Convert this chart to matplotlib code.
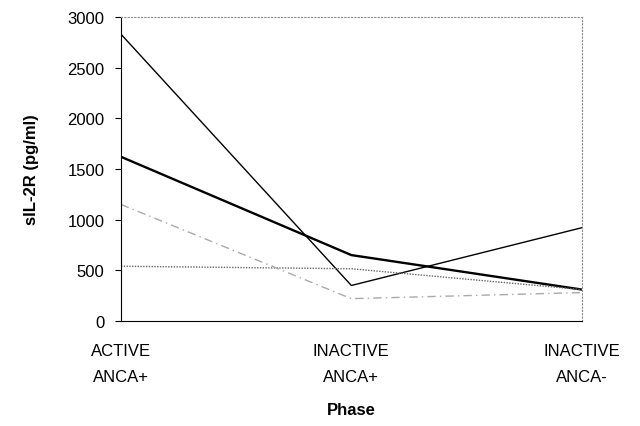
import matplotlib.pyplot as plt

plt.rcParams['font.family'] = ['Liberation Sans', 'DejaVu Sans']

## categories and patient series
phases = ["ACTIVE\nANCA+", "INACTIVE\nANCA+", "INACTIVE\nANCA-"]
pat1 = [2830, 350, 920]   # thin solid
pat2 = [1620, 650, 310]   # thick solid
pat3 = [540, 515, 310]    # dotted
pat4 = [1150, 220, 280]   # dash-dot

fig = plt.figure(figsize=(6.4, 4.27), dpi=100)
ax = fig.add_axes([0.189, 0.246, 0.72, 0.712])

x = range(len(phases))
ax.plot(x, pat1, color="black", lw=1.0)
ax.plot(x, pat2, color="black", lw=1.7)
ax.plot(x, pat3, color="#666666", lw=1.0, ls=(0, (1, 1)))
ax.plot(x, pat4, color="#aaaaaa", lw=1.0, ls=(0, (6, 3, 1, 3)))

ax.set_xlim(0, 2)
ax.set_ylim(0, 3000)
ax.set_yticks([0, 500, 1000, 1500, 2000, 2500, 3000])
ax.set_xticks(list(x))
ax.set_xticklabels(phases, fontsize=12, linespacing=1.9)
ax.tick_params(axis="y", labelsize=12, length=4, pad=8)
ax.tick_params(axis="x", length=0, pad=16)

for s in ["top", "right"]:
    ax.spines[s].set_linestyle((0, (1, 2)))
    ax.spines[s].set_color("#888888")
ax.spines["left"].set_linewidth(0.8)
ax.spines["bottom"].set_linewidth(0.8)

ax.set_ylabel("sIL-2R (pg/ml)", fontsize=12, fontweight="bold", labelpad=20)
ax.set_xlabel("Phase", fontsize=12, fontweight="bold", labelpad=13)

plt.savefig("out.png")
